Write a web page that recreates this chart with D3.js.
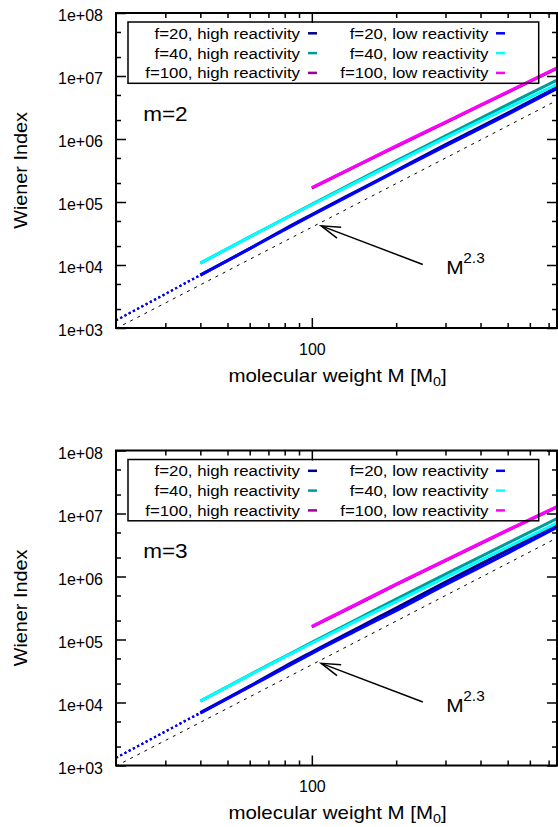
<!DOCTYPE html>
<html><head><meta charset="utf-8">
<script src="https://cdn.jsdelivr.net/npm/d3@7"></script>
<style>
body{margin:0;background:#fff;}
svg{display:block;font-family:"Liberation Sans",Arial,Helvetica,sans-serif;}
</style>
</head><body>
<svg id="chart" width="558" height="827"></svg>
<script>
// ---------------- data ----------------
const massAll  = [20, 30, 40, 60, 80, 100, 150, 200, 300, 500, 750];
const mass40   = [40, 60, 80, 100, 150, 200, 300, 500, 750];
const mass100  = [100, 150, 200, 300, 500, 750];

// m = 2 panel
const m2_f20_high  = [1.32e3, 3.47e3, 6.92e3, 1.82e4, 3.72e4, 6.31e4, 1.62e5, 3.16e5, 8.13e5, 2.57e6, 6.61e6];
const m2_f20_low   = [1.32e3, 3.47e3, 6.92e3, 1.82e4, 3.63e4, 6.17e4, 1.58e5, 3.09e5, 7.76e5, 2.45e6, 6.31e6];
const m2_f40_high  = [1.07e4, 2.79e4, 5.47e4, 9.18e4, 2.33e5, 4.50e5, 1.12e6, 3.51e6, 8.59e6];
const m2_f40_low   = [1.07e4, 2.79e4, 5.43e4, 9.04e4, 2.25e5, 4.26e5, 1.04e6, 3.12e6, 7.40e6];
const m2_f100_high = [1.66e5, 4.07e5, 7.59e5, 1.82e6, 5.50e6, 1.32e7];
const m2_f100_low  = [1.70e5, 4.12e5, 7.76e5, 1.86e6, 5.62e6, 1.35e7];

// m = 3 panel
const m3_f20_high  = [1.32e3, 3.47e3, 6.92e3, 1.82e4, 3.72e4, 6.31e4, 1.62e5, 3.16e5, 8.13e5, 2.63e6, 6.76e6];
const m3_f20_low   = [1.32e3, 3.47e3, 6.76e3, 1.78e4, 3.55e4, 6.03e4, 1.51e5, 2.88e5, 7.41e5, 2.34e6, 6.03e6];
const m3_f40_high  = [1.05e4, 2.75e4, 5.37e4, 9.00e4, 2.27e5, 4.37e5, 1.09e6, 3.39e6, 8.27e6];
const m3_f40_low   = [1.05e4, 2.72e4, 5.25e4, 8.71e4, 2.14e5, 4.00e5, 9.70e5, 2.93e6, 7.08e6];
const m3_f100_high = [1.58e5, 3.89e5, 7.41e5, 1.78e6, 5.37e6, 1.26e7];
const m3_f100_low  = [1.62e5, 3.98e5, 7.59e5, 1.82e6, 5.50e6, 1.29e7];

// reference power law M^2.3 (dashed), end points
const refMass = [20, 750];
const refW    = [982, 4.1e6];

const seriesLabels = ["f=20, high reactivity", "f=40, high reactivity", "f=100, high reactivity",
                      "f=20, low reactivity",  "f=40, low reactivity",  "f=100, low reactivity"];
const seriesColors = ["#00008b", "#009b9b", "#9b009b", "#0000ff", "#00ffff", "#ff00ff"];
const panelLabels  = ["m=2", "m=3"];

const yTickValues = [1e3, 1e4, 1e5, 1e6, 1e7, 1e8];
const yTickLabels = ["1e+03", "1e+04", "1e+05", "1e+06", "1e+07", "1e+08"];
const yMinorTicks = [2e3, 5e3, 2e4, 5e4, 2e5, 5e5, 2e6, 5e6, 2e7, 5e7];
const xTickValues = [100];
const xTickLabels = ["100"];
const xMinorTicks = [30, 40, 50, 60, 70, 80, 90, 200, 300, 400, 500, 600, 700];

// annotation anchors in data units
const arrowFrom = [249, 1.02e4];
const arrowTo   = [108, 4.18e4];
const powerLabelAt = [302, 7.1e3];
const panelLabelAt = [25, 1.95e6];

// ---------------- layout ----------------
const plotLeft = 116, plotRight = 557, plotH = 315;
const panelTops = [13, 450.5];
const SX = 1.1; // horizontal text stretch seen in the picture
const sparseBelow = 40; // mass below which the sampled points appear as separate dots

const panels = [
  { mass: [massAll, mass40, mass100, massAll, mass40, mass100],
    vals: [m2_f20_high, m2_f40_high, m2_f100_high, m2_f20_low, m2_f40_low, m2_f100_low] },
  { mass: [massAll, mass40, mass100, massAll, mass40, mass100],
    vals: [m3_f20_high, m3_f40_high, m3_f100_high, m3_f20_low, m3_f40_low, m3_f100_low] }
];

const svg = d3.select("#chart");
const x = d3.scaleLog().domain([20, 750]).range([plotLeft, plotRight]);

function stext(g, px, py, str, size, anchor) {
  return g.append("text")
    .attr("transform", `translate(${px},${py}) scale(${SX},1)`)
    .attr("font-size", size)
    .attr("text-anchor", anchor || "start")
    .attr("fill", "#000")
    .text(str);
}

panels.forEach((p, pi) => {
  const top = panelTops[pi];
  const bottom = top + plotH;
  const y = d3.scaleLog().domain([1e3, 1e8]).range([bottom, top]);
  const g = svg.append("g");

  const clipId = "clip" + pi;
  svg.append("clipPath").attr("id", clipId).append("rect")
    .attr("x", plotLeft).attr("y", top).attr("width", plotRight - plotLeft).attr("height", plotH);

  // reference dashed line
  g.append("path")
    .datum(refMass.map((m, i) => [m, refW[i]]))
    .attr("clip-path", `url(#${clipId})`)
    .attr("fill", "none").attr("stroke", "#000").attr("stroke-width", 1)
    .attr("stroke-dasharray", "3,5")
    .attr("d", d3.line().x(d => x(d[0])).y(d => y(d[1])));

  // data series (high first, then low, like the plot order)
  const line = d3.line().x(d => x(d[0])).y(d => y(d[1])).curve(d3.curveMonotoneX);
  p.vals.forEach((vals, si) => {
    const pts = vals.map((v, k) => [p.mass[si][k], v]);
    const sparse = pts.filter(d => d[0] <= sparseBelow);
    const dense = pts.filter(d => d[0] >= sparseBelow);
    if (sparse.length > 1) {
      g.append("path").datum(sparse)
        .attr("clip-path", `url(#${clipId})`)
        .attr("fill", "none").attr("stroke", seriesColors[si])
        .attr("stroke-width", 2.2).attr("stroke-dasharray", "2.2,2.6")
        .attr("d", line);
    }
    g.append("path").datum(dense)
      .attr("clip-path", `url(#${clipId})`)
      .attr("fill", "none")
      .attr("stroke", seriesColors[si])
      .attr("stroke-width", 3)
      .attr("d", line);
  });

  // axes (ticks inward)
  const styleAxis = sel => {
    sel.select(".domain").remove();
    sel.selectAll("line").attr("stroke", "#000").attr("stroke-width", 1.5);
    sel.selectAll("text").attr("font-size", 16).attr("fill", "#000")
       .attr("font-family", '"Liberation Sans",Arial,sans-serif');
  };
  g.append("g").attr("transform", `translate(${plotLeft},0)`)
    .call(d3.axisLeft(y).tickValues(yTickValues).tickFormat((d, i) => yTickLabels[i])
      .tickSizeInner(-10).tickSizeOuter(0).tickPadding(13))
    .call(styleAxis)
    .selectAll("text").attr("dy", "0.49em");
  g.append("g").attr("transform", `translate(${plotLeft},0)`)
    .call(d3.axisLeft(y).tickValues(yMinorTicks).tickFormat("").tickSizeInner(-5).tickSizeOuter(0))
    .call(styleAxis);
  g.append("g").attr("transform", `translate(${plotRight},0)`)
    .call(d3.axisRight(y).tickValues(yTickValues).tickFormat("").tickSizeInner(-10).tickSizeOuter(0))
    .call(styleAxis);
  g.append("g").attr("transform", `translate(${plotRight},0)`)
    .call(d3.axisRight(y).tickValues(yMinorTicks).tickFormat("").tickSizeInner(-5).tickSizeOuter(0))
    .call(styleAxis);
  g.append("g").attr("transform", `translate(0,${bottom})`)
    .call(d3.axisBottom(x).tickValues(xTickValues).tickFormat((d, i) => xTickLabels[i])
      .tickSizeInner(-10).tickSizeOuter(0).tickPadding(15.5))
    .call(styleAxis);
  g.append("g").attr("transform", `translate(0,${bottom})`)
    .call(d3.axisBottom(x).tickValues(xMinorTicks).tickFormat("").tickSizeInner(-5).tickSizeOuter(0))
    .call(styleAxis);
  g.append("g").attr("transform", `translate(0,${top})`)
    .call(d3.axisTop(x).tickValues(xTickValues).tickFormat("").tickSizeInner(-10).tickSizeOuter(0))
    .call(styleAxis);
  g.append("g").attr("transform", `translate(0,${top})`)
    .call(d3.axisTop(x).tickValues(xMinorTicks).tickFormat("").tickSizeInner(-5).tickSizeOuter(0))
    .call(styleAxis);

  // frame
  g.append("rect").attr("x", plotLeft).attr("y", top)
    .attr("width", plotRight - plotLeft).attr("height", plotH)
    .attr("fill", "none").attr("stroke", "#000").attr("stroke-width", 2);

  // axis titles
  const xt = g.append("text")
    .attr("transform", `translate(${(plotLeft + plotRight) / 2 + 1},${bottom + 53.5}) scale(${SX},1)`)
    .attr("font-size", 18.6).attr("text-anchor", "middle").attr("fill", "#000");
  xt.append("tspan").text("molecular weight M [M");
  xt.append("tspan").attr("font-size", 13).attr("dy", 4).text("0");
  xt.append("tspan").attr("dy", -4).text("]");

  g.append("text")
    .attr("transform", `translate(27,${(top + bottom) / 2}) rotate(-90) scale(${SX},1)`)
    .attr("font-size", 18).attr("text-anchor", "middle").attr("fill", "#000")
    .text("Wiener Index");

  // panel label
  stext(g, x(panelLabelAt[0]), y(panelLabelAt[1]), panelLabels[pi], 20.5);

  // arrow + M^2.3
  const ax1 = x(arrowFrom[0]), ay1 = y(arrowFrom[1]);
  const ax2 = x(arrowTo[0]),   ay2 = y(arrowTo[1]);
  g.append("line").attr("x1", ax1).attr("y1", ay1).attr("x2", ax2).attr("y2", ay2)
    .attr("stroke", "#000").attr("stroke-width", 1.5);
  const ang = Math.atan2(ay1 - ay2, ax1 - ax2);
  const hl = 20, ha = 17 * Math.PI / 180;
  g.append("path")
    .attr("d", `M${ax2 + hl * Math.cos(ang - ha)},${ay2 + hl * Math.sin(ang - ha)}L${ax2},${ay2}L${ax2 + hl * Math.cos(ang + ha)},${ay2 + hl * Math.sin(ang + ha)}`)
    .attr("fill", "none").attr("stroke", "#000").attr("stroke-width", 1.5);
  const lx = x(powerLabelAt[0]), ly = y(powerLabelAt[1]);
  stext(g, lx, ly, "M", 19);
  stext(g, lx + 17, ly - 11, "2.3", 14);

  // legend (transparent box)
  g.append("rect").attr("x", 128).attr("y", top + 9)
    .attr("width", 410.7).attr("height", 61.3)
    .attr("fill", "none").attr("stroke", "#000").attr("stroke-width", 1.5);
  seriesLabels.forEach((lab, si) => {
    const col = Math.floor(si / 3), row = si % 3;
    const cy = top + 20.3 + row * 19.8;
    const tx = col === 0 ? 300 : 488.5;
    const sx = col === 0 ? 308 : 496;
    stext(g, tx, cy + 5.5, lab, 15.3, "end");
    g.append("line").attr("x1", sx).attr("x2", sx + 9).attr("y1", cy).attr("y2", cy)
      .attr("stroke", seriesColors[si]).attr("stroke-width", 2.5);
  });
});
</script>
</body></html>
